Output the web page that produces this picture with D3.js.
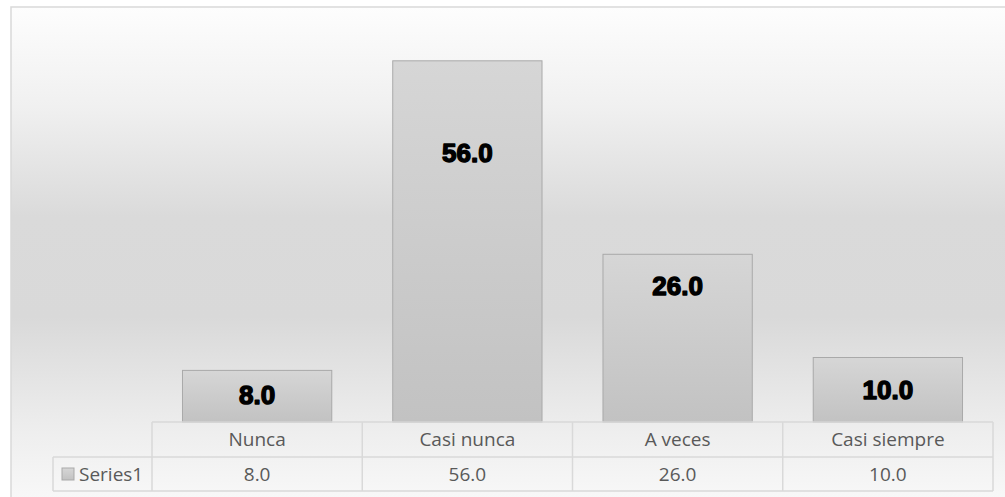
<!DOCTYPE html>
<html>
<head>
<meta charset="utf-8">
<script src="https://cdn.jsdelivr.net/npm/d3@7"></script>
<style>
  html, body { margin: 0; padding: 0; background: #ffffff; }
  svg { display: block; }
</style>
</head>
<body>
<svg id="chart" width="1005" height="497"></svg>
<script>
// Survey answers and their values
const categories = ["Nunca", "Casi nunca", "A veces", "Casi siempre"];
const values = [8.0, 56.0, 26.0, 10.0];
const seriesName = "Series1";
const valueMax = 60;

// Layout
const W = 1005, H = 497;
const frame = { x: 11, y: 7 };
const plot = { left: 152, right: 993, top: 35, bottom: 422 };
const tableRows = { catTop: 422, valTop: 457, valBottom: 491 };
const keyLeft = 53;
// how far each value label sits below its bar's top edge (px)
const labelDrop = [24, 92, 32, 32];

const fmt = d3.format(".1f");
const svg = d3.select("#chart");
const defs = svg.append("defs");

const bg = defs.append("linearGradient").attr("id", "bgGrad")
  .attr("x1", 0).attr("y1", 0).attr("x2", 0).attr("y2", 1);
[[0, "#fdfdfd"], [0.2, "#f0f0f0"], [0.42, "#dadada"], [0.62, "#d9d9d9"], [0.85, "#eeeeee"], [1, "#f9f9f9"]]
  .forEach(([o, c]) => bg.append("stop").attr("offset", o).attr("stop-color", c));

const barGrad = defs.append("linearGradient").attr("id", "barGrad")
  .attr("x1", 0).attr("y1", 0).attr("x2", 0).attr("y2", 1);
[[0, "#d6d6d6"], [1, "#c2c2c2"]]
  .forEach(([o, c]) => barGrad.append("stop").attr("offset", o).attr("stop-color", c));

// Chart area with its frame
svg.append("rect")
  .attr("x", frame.x).attr("y", frame.y)
  .attr("width", W + 10 - frame.x).attr("height", H + 10 - frame.y)
  .attr("fill", "url(#bgGrad)")
  .attr("stroke", "#d9d9d9").attr("stroke-width", 1.5);

const x = d3.scaleBand().domain(categories)
  .range([plot.left, plot.right]).paddingInner(0.29).paddingOuter(0.145);
const y = d3.scaleLinear().domain([0, valueMax]).range([plot.bottom, plot.top]);

// Bars
svg.append("g").selectAll("rect").data(values).join("rect")
  .attr("x", (d, i) => x(categories[i]))
  .attr("y", d => y(d))
  .attr("width", x.bandwidth())
  .attr("height", d => y(0) - y(d))
  .attr("fill", "url(#barGrad)")
  .attr("stroke", "#a9a9a9").attr("stroke-width", 1);

// Value labels inside the bars
svg.append("g").selectAll("text").data(values).join("text")
  .attr("x", (d, i) => x(categories[i]) + x.bandwidth() / 2)
  .attr("y", (d, i) => y(d) + labelDrop[i])
  .attr("dy", "0.35em")
  .attr("text-anchor", "middle")
  .attr("font-family", "'Liberation Sans', Arial, sans-serif")
  .attr("font-weight", "bold")
  .attr("font-size", 26)
  .attr("fill", "#000")
  .attr("stroke", "#000").attr("stroke-width", 1.4)
  .attr("stroke-linejoin", "round")
  .text(d => fmt(d));

// Data table under the plot
const grid = svg.append("g")
  .attr("stroke", "#d9d9d9").attr("stroke-width", 1.5).attr("fill", "none");
const step = x.step();
const colEdges = categories.map((c, i) => plot.left + i * step).concat([plot.right]);

// horizontal lines
grid.append("line").attr("x1", plot.left).attr("x2", plot.right)
  .attr("y1", tableRows.catTop).attr("y2", tableRows.catTop);
grid.append("line").attr("x1", keyLeft).attr("x2", plot.right)
  .attr("y1", tableRows.valTop).attr("y2", tableRows.valTop);
grid.append("line").attr("x1", keyLeft).attr("x2", plot.right)
  .attr("y1", tableRows.valBottom).attr("y2", tableRows.valBottom);
// vertical lines
grid.append("line").attr("x1", keyLeft).attr("x2", keyLeft)
  .attr("y1", tableRows.valTop).attr("y2", tableRows.valBottom);
colEdges.forEach(cx => grid.append("line").attr("x1", cx).attr("x2", cx)
  .attr("y1", tableRows.catTop).attr("y2", tableRows.valBottom));

const tableFont = "'Open Sans', 'Noto Sans', sans-serif";
const catMid = (tableRows.catTop + tableRows.valTop) / 2;
const valMid = (tableRows.valTop + tableRows.valBottom) / 2;

svg.append("g").selectAll("text").data(categories).join("text")
  .attr("x", d => x(d) + x.bandwidth() / 2)
  .attr("y", catMid).attr("dy", "0.36em")
  .attr("text-anchor", "middle")
  .attr("font-family", tableFont).attr("font-size", 19)
  .attr("fill", "#595959")
  .text(d => d);

svg.append("g").selectAll("text").data(values).join("text")
  .attr("x", (d, i) => x(categories[i]) + x.bandwidth() / 2)
  .attr("y", valMid).attr("dy", "0.36em")
  .attr("text-anchor", "middle")
  .attr("font-family", tableFont).attr("font-size", 19)
  .attr("fill", "#595959")
  .text(d => fmt(d));

// Legend key and series name
svg.append("rect")
  .attr("x", keyLeft + 9).attr("y", valMid - 6)
  .attr("width", 12).attr("height", 12)
  .attr("fill", "url(#barGrad)")
  .attr("stroke", "#a9a9a9").attr("stroke-width", 1);
svg.append("text")
  .attr("x", keyLeft + 26).attr("y", valMid).attr("dy", "0.36em")
  .attr("font-family", tableFont).attr("font-size", 19)
  .attr("fill", "#595959")
  .text(seriesName);
</script>
</body>
</html>
